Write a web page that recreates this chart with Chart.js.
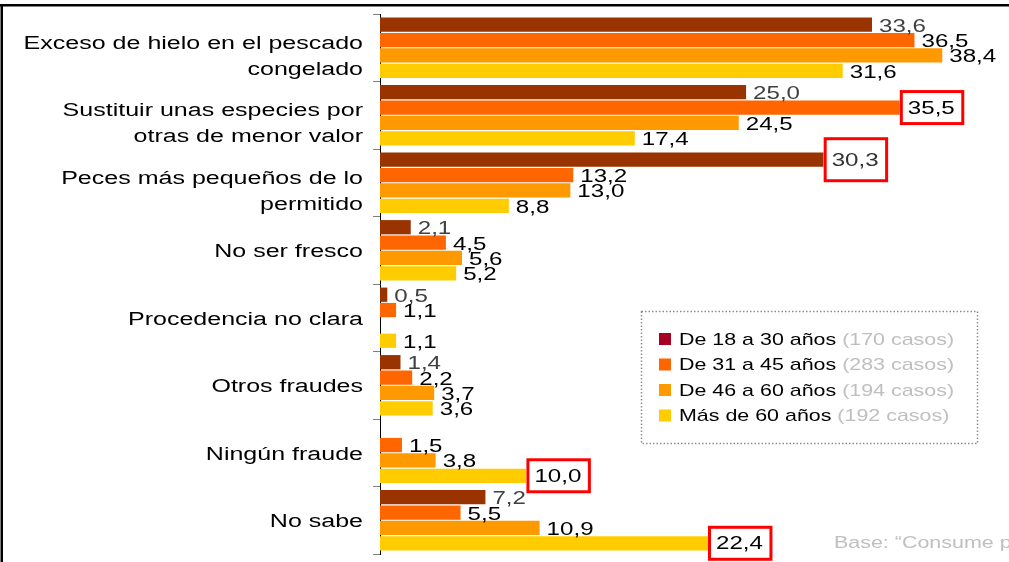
<!DOCTYPE html>
<html>
<head>
<meta charset="utf-8">
<script src="https://cdn.jsdelivr.net/npm/chart.js@4/dist/chart.umd.min.js"></script>
<style>
  html, body { margin: 0; padding: 0; background: #fff; }
  #wrap { width: 1009px; height: 562px; }
</style>
</head>
<body>
<div id="wrap"><canvas id="fraudChart" width="1009" height="562"></canvas></div>
<script>
// Categories (multi-line labels as arrays)
const categories = [
    ['Exceso de hielo en el pescado', 'congelado'],
    ['Sustituir unas especies por', 'otras de menor valor'],
    ['Peces más pequeños de lo', 'permitido'],
    ['No ser fresco'],
    ['Procedencia no clara'],
    ['Otros fraudes'],
    ['Ningún fraude'],
    ['No sabe']
];

// Percentages per age group
const age18to30 = [33.6, 25.0, 30.3, 2.1, 0.5, 1.4, null, 7.2];
const age31to45 = [36.5, 35.5, 13.2, 4.5, 1.1, 2.2, 1.5, 5.5];
const age46to60 = [38.4, 24.5, 13.0, 5.6, null, 3.7, 3.8, 10.9];
const ageOver60 = [31.6, 17.4, 8.8, 5.2, 1.1, 3.6, 10.0, 22.4];

const seriesNames = ['De 18 a 30 años', 'De 31 a 45 años', 'De 46 a 60 años', 'Más de 60 años'];
const seriesCases = ['(170 casos)', '(283 casos)', '(194 casos)', '(192 casos)'];

// Values framed in red in the original: [series, category]
const highlighted = [[1, 1], [0, 2], [3, 6], [3, 7]];

const barColors = ['#993300', '#ff6600', '#ff9900', '#ffcc00'];
const legendColors = ['#a50021', '#ff6600', '#ff9900', '#ffcc00'];
const FONT = '"Liberation Sans", Arial, sans-serif';

function wideText(ctx, text, x, y, sx, align) {
    ctx.save();
    ctx.translate(x, y);
    ctx.scale(sx, 1);
    ctx.textAlign = align || 'left';
    ctx.fillText(text, 0, 0);
    ctx.restore();
}

function fmt(v) {
    return v.toFixed(1).replace('.', ',');
}

const overlay = {
    id: 'overlay',
    beforeDraw(chart) {
        const ctx = chart.ctx;
        ctx.save();
        ctx.fillStyle = '#fff';
        ctx.fillRect(0, 0, chart.width, chart.height);
        ctx.restore();
    },
    afterDatasetsDraw(chart) {
        const ctx = chart.ctx;
        const allSeries = [age18to30, age31to45, age46to60, ageOver60];
        ctx.save();
        ctx.font = '18px ' + FONT;
        ctx.textBaseline = 'middle';
        allSeries.forEach(function(values, d) {
            const meta = chart.getDatasetMeta(d);
            meta.data.forEach(function(bar, i) {
                const v = values[i];
                if (v === null || v === undefined) return;
                const text = fmt(v);
                const isBoxed = highlighted.some(function(h) { return h[0] === d && h[1] === i; });
                const sx = 1.34;
                if (isBoxed) {
                    const w = ctx.measureText(text).width * sx + 16;
                    const h = (d === 0) ? 42 : 32;
                    ctx.fillStyle = '#fff';
                    ctx.fillRect(bar.x, bar.y - h / 2, w, h);
                    ctx.strokeStyle = '#ff0000';
                    ctx.lineWidth = 3;
                    ctx.strokeRect(bar.x + 1.5, bar.y - h / 2, w - 1.5, h);
                    ctx.fillStyle = d === 0 ? '#333333' : '#000';
                    wideText(ctx, text, bar.x + 8, bar.y + 1, sx);
                } else {
                    ctx.fillStyle = d === 0 ? '#404040' : '#000';
                    wideText(ctx, text, bar.x + 7, bar.y + 2, sx);
                }
            });
        });
        ctx.restore();
    },
    afterDraw(chart) {
        const ctx = chart.ctx;
        const yScale = chart.scales.y;
        ctx.save();

        // Category labels
        ctx.font = '18px ' + FONT;
        ctx.textBaseline = 'middle';
        ctx.fillStyle = '#000';
        categories.forEach(function(lines, i) {
            const y = yScale.getPixelForValue(i);
            if (lines.length === 1) {
                wideText(ctx, lines[0], 363, y + 2, 1.39, 'right');
            } else {
                wideText(ctx, lines[0], 363, y - 4, 1.39, 'right');
                wideText(ctx, lines[1], 363, y + 22, 1.39, 'right');
            }
        });

        // Legend box
        ctx.strokeStyle = '#8c8c8c';
        ctx.lineWidth = 1.5;
        ctx.setLineDash([1.5, 2]);
        ctx.strokeRect(641.5, 311.5, 336, 132);
        ctx.setLineDash([]);
        ctx.font = '17px ' + FONT;
        const rowY = [340, 365.5, 391, 416.5];
        seriesNames.forEach(function(name, i) {
            const y = rowY[i];
            ctx.fillStyle = legendColors[i];
            ctx.fillRect(659, y - 7, 12, 12);
            ctx.fillStyle = '#000';
            wideText(ctx, name, 679, y, 1.26);
            const w = ctx.measureText(name + ' ').width * 1.26;
            ctx.fillStyle = '#bfbfbf';
            wideText(ctx, seriesCases[i], 679 + w, y, 1.26);
        });

        // Base note (cut at the right edge in the original)
        ctx.font = '16px ' + FONT;
        ctx.fillStyle = '#bfbfbf';
        wideText(ctx, 'Base: “Consume pescado”', 834, 544, 1.34);

        // Frame lines, top and left
        ctx.fillStyle = '#000';
        ctx.fillRect(0, 4, chart.width, 2.5);
        ctx.fillRect(0.5, 4, 2.5, chart.height);
        ctx.restore();
    }
};

const ctx = document.getElementById('fraudChart').getContext('2d');
new Chart(ctx, {
    type: 'bar',
    data: {
        labels: categories,
        datasets: [
            { label: seriesNames[0], data: age18to30, backgroundColor: barColors[0] },
            { label: seriesNames[1], data: age31to45, backgroundColor: barColors[1] },
            { label: seriesNames[2], data: age46to60, backgroundColor: barColors[2] },
            { label: seriesNames[3], data: ageOver60, backgroundColor: barColors[3] }
        ]
    },
    options: {
        responsive: false,
        animation: false,
        indexAxis: 'y',
        layout: { padding: { top: 14, right: 14, bottom: 8, left: 0 } },
        datasets: { bar: { categoryPercentage: 0.91, barPercentage: 0.93, borderWidth: 0 } },
        plugins: {
            legend: { display: false },
            tooltip: { enabled: false }
        },
        scales: {
            x: { display: false, min: 0, max: 42 },
            y: {
                offset: true,
                grid: { offset: true, drawOnChartArea: false, drawTicks: true, tickLength: 7, color: '#7f7f7f', lineWidth: 1 },
                border: { display: true, color: '#000', width: 1 },
                ticks: { display: false },
                afterFit: function(scale) { scale.width = 380; }
            }
        }
    },
    plugins: [overlay]
});
</script>
</body>
</html>
